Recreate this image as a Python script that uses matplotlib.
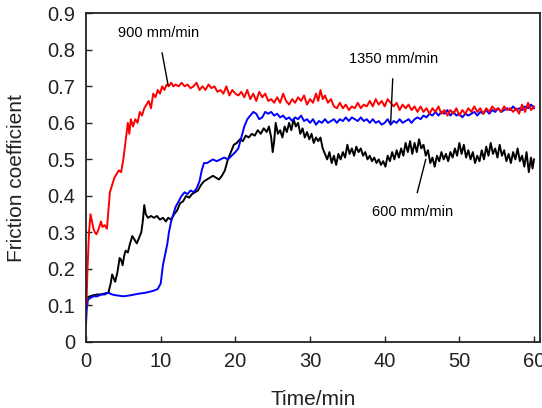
import matplotlib
matplotlib.use("Agg")
import matplotlib.pyplot as plt

plt.rcParams["font.family"] = ["Liberation Sans", "DejaVu Sans"]

# (time in min, friction coefficient)
feed_900 = [(0.05, 0.10), (0.2, 0.20), (0.4, 0.30), (0.6, 0.35), (0.8, 0.33), (1.0, 0.31), (1.2, 0.30),
            (1.4, 0.295), (1.7, 0.31), (2.0, 0.33), (2.2, 0.315), (2.5, 0.32), (2.8, 0.31), (3.0, 0.36),
            (3.2, 0.41), (3.5, 0.43), (3.8, 0.45), (4.1, 0.46), (4.4, 0.47), (4.7, 0.465), (5.0, 0.50),
            (5.3, 0.55), (5.6, 0.60), (5.8, 0.57), (6.0, 0.61), (6.3, 0.59), (6.6, 0.61), (6.9, 0.60),
            (7.2, 0.63), (7.5, 0.62), (7.8, 0.64), (8.1, 0.65), (8.4, 0.66), (8.7, 0.64), (9.0, 0.68),
            (9.3, 0.67), (9.6, 0.69), (9.9, 0.68), (10.2, 0.70), (10.5, 0.69), (10.8, 0.705), (11.1, 0.70),
            (11.4, 0.71), (11.7, 0.70), (12.0, 0.705), (12.4, 0.70), (12.8, 0.71), (13.2, 0.70), (13.6, 0.705),
            (14.0, 0.695), (14.4, 0.70), (14.8, 0.71), (15.2, 0.69), (15.6, 0.70), (16.0, 0.69), (16.4, 0.705),
            (16.8, 0.695), (17.2, 0.70), (17.6, 0.685), (18.0, 0.69), (18.4, 0.68), (18.8, 0.70), (19.2, 0.675),
            (19.6, 0.69), (20.0, 0.68), (20.4, 0.675), (20.8, 0.685), (21.2, 0.67), (21.6, 0.69), (22.0, 0.665),
            (22.4, 0.68), (22.8, 0.66), (23.2, 0.685), (23.6, 0.67), (24.0, 0.68), (24.4, 0.66), (24.8, 0.665),
            (25.2, 0.655), (25.6, 0.67), (26.0, 0.655), (26.4, 0.68), (26.8, 0.66), (27.2, 0.65), (27.6, 0.665),
            (28.0, 0.655), (28.4, 0.67), (28.8, 0.66), (29.2, 0.675), (29.6, 0.65), (30.0, 0.665), (30.4, 0.655),
            (30.8, 0.68), (31.1, 0.66), (31.4, 0.69), (31.7, 0.665), (32.0, 0.675), (32.4, 0.655), (32.8, 0.665),
            (33.2, 0.645), (33.6, 0.64), (34.0, 0.655), (34.4, 0.64), (34.8, 0.65), (35.2, 0.635), (35.6, 0.645),
            (36.0, 0.64), (36.4, 0.655), (36.8, 0.64), (37.2, 0.65), (37.6, 0.645), (38.0, 0.66), (38.4, 0.645),
            (38.8, 0.665), (39.2, 0.65), (39.6, 0.66), (40.0, 0.645), (40.4, 0.665), (40.8, 0.655), (41.2, 0.645),
            (41.6, 0.655), (42.0, 0.635), (42.4, 0.65), (42.8, 0.64), (43.2, 0.65), (43.6, 0.635), (44.0, 0.645),
            (44.4, 0.63), (44.8, 0.645), (45.2, 0.63), (45.6, 0.64), (46.0, 0.625), (46.4, 0.64), (46.8, 0.63),
            (47.2, 0.645), (47.6, 0.625), (48.0, 0.635), (48.4, 0.62), (48.8, 0.635), (49.2, 0.625), (49.6, 0.64),
            (50.0, 0.62), (50.4, 0.635), (50.8, 0.625), (51.2, 0.64), (51.6, 0.63), (52.0, 0.645), (52.4, 0.63),
            (52.8, 0.64), (53.2, 0.625), (53.6, 0.64), (54.0, 0.63), (54.4, 0.645), (54.8, 0.635), (55.2, 0.64),
            (55.6, 0.63), (56.0, 0.645), (56.4, 0.635), (56.8, 0.64), (57.2, 0.63), (57.6, 0.64), (58.0, 0.625),
            (58.4, 0.65), (58.8, 0.63), (59.2, 0.655), (59.6, 0.635), (60.0, 0.645)]

feed_1350 = [(0.0, 0.05), (0.1, 0.09), (0.25, 0.115), (0.5, 0.12), (1.0, 0.125), (1.5, 0.125), (2.0, 0.13),
             (2.5, 0.13), (3.0, 0.135), (3.5, 0.13), (4.0, 0.128), (5.0, 0.125), (6.0, 0.128), (7.0, 0.132),
             (8.0, 0.135), (9.0, 0.14), (9.6, 0.145), (10.0, 0.16), (10.3, 0.21), (10.6, 0.24), (10.9, 0.27),
             (11.1, 0.30), (11.4, 0.33), (11.7, 0.35), (12.0, 0.37), (12.4, 0.385), (12.8, 0.40), (13.2, 0.41),
             (13.6, 0.405), (14.0, 0.415), (14.4, 0.41), (14.8, 0.42), (15.2, 0.44), (15.5, 0.47), (15.8, 0.49),
             (16.2, 0.49), (16.6, 0.495), (17.0, 0.50), (17.5, 0.495), (18.0, 0.50), (18.5, 0.505), (19.0, 0.50),
             (19.5, 0.51), (20.0, 0.52), (20.4, 0.53), (20.8, 0.56), (21.2, 0.59), (21.6, 0.61), (22.0, 0.62),
             (22.4, 0.63), (22.8, 0.625), (23.2, 0.61), (23.6, 0.615), (24.0, 0.63), (24.4, 0.625), (24.8, 0.63),
             (25.2, 0.62), (25.6, 0.625), (26.0, 0.615), (26.4, 0.62), (26.8, 0.61), (27.2, 0.615), (27.6, 0.605),
             (28.0, 0.615), (28.4, 0.61), (28.8, 0.62), (29.2, 0.605), (29.6, 0.61), (30.0, 0.60), (30.4, 0.61),
             (30.8, 0.595), (31.2, 0.605), (31.6, 0.60), (32.0, 0.61), (32.4, 0.60), (32.8, 0.605), (33.2, 0.61),
             (33.6, 0.60), (34.0, 0.61), (34.4, 0.605), (34.8, 0.615), (35.2, 0.605), (35.6, 0.615), (36.0, 0.61),
             (36.4, 0.605), (36.8, 0.615), (37.2, 0.605), (37.6, 0.61), (38.0, 0.60), (38.4, 0.61), (38.8, 0.60),
             (39.2, 0.605), (39.6, 0.595), (40.0, 0.60), (40.4, 0.61), (40.8, 0.595), (41.2, 0.605), (41.6, 0.60),
             (42.0, 0.61), (42.4, 0.60), (42.8, 0.605), (43.2, 0.61), (43.6, 0.60), (44.0, 0.61), (44.4, 0.615),
             (44.8, 0.61), (45.2, 0.62), (45.6, 0.615), (46.0, 0.625), (46.4, 0.62), (46.8, 0.63), (47.2, 0.62),
             (47.6, 0.63), (48.0, 0.625), (48.4, 0.635), (48.8, 0.62), (49.2, 0.63), (49.6, 0.62), (50.0, 0.625),
             (50.4, 0.615), (50.8, 0.625), (51.2, 0.62), (51.6, 0.625), (52.0, 0.63), (52.4, 0.62), (52.8, 0.63),
             (53.2, 0.625), (53.6, 0.635), (54.0, 0.625), (54.4, 0.635), (54.8, 0.63), (55.2, 0.64), (55.6, 0.63),
             (56.0, 0.635), (56.4, 0.64), (56.8, 0.635), (57.2, 0.645), (57.6, 0.635), (58.0, 0.64), (58.4, 0.635),
             (58.8, 0.645), (59.2, 0.64), (59.6, 0.65), (60.0, 0.64)]

feed_600 = [(0.0, 0.12), (0.5, 0.125), (1.0, 0.128), (1.5, 0.13), (2.0, 0.13), (2.5, 0.133), (3.0, 0.135),
            (3.3, 0.16), (3.5, 0.185), (3.7, 0.175), (3.9, 0.165), (4.2, 0.19), (4.5, 0.23), (4.7, 0.225),
            (4.9, 0.21), (5.1, 0.235), (5.3, 0.25), (5.6, 0.245), (5.9, 0.27), (6.2, 0.29), (6.5, 0.28),
            (6.8, 0.27), (7.1, 0.285), (7.4, 0.30), (7.6, 0.33), (7.8, 0.375), (8.0, 0.35), (8.3, 0.34),
            (8.7, 0.345), (9.1, 0.34), (9.5, 0.345), (9.9, 0.335), (10.3, 0.34), (10.7, 0.33), (11.0, 0.34),
            (11.4, 0.335), (11.8, 0.35), (12.2, 0.36), (12.6, 0.38), (13.0, 0.385), (13.4, 0.40), (13.8, 0.395),
            (14.2, 0.405), (14.6, 0.41), (15.0, 0.415), (15.4, 0.43), (15.8, 0.44), (16.2, 0.445), (16.6, 0.45),
            (17.0, 0.455), (17.4, 0.45), (17.8, 0.445), (18.2, 0.455), (18.6, 0.47), (19.0, 0.50), (19.4, 0.52),
            (19.8, 0.54), (20.2, 0.545), (20.6, 0.555), (21.0, 0.55), (21.4, 0.565), (21.8, 0.56), (22.2, 0.57),
            (22.6, 0.565), (23.0, 0.58), (23.4, 0.57), (23.8, 0.585), (24.2, 0.575), (24.5, 0.59), (24.8, 0.56),
            (25.0, 0.52), (25.2, 0.55), (25.4, 0.60), (25.7, 0.57), (26.0, 0.58), (26.3, 0.56), (26.6, 0.59),
            (26.9, 0.575), (27.2, 0.60), (27.5, 0.58), (27.8, 0.61), (28.1, 0.59), (28.4, 0.60), (28.7, 0.57),
            (29.0, 0.585), (29.3, 0.56), (29.6, 0.575), (29.9, 0.555), (30.2, 0.57), (30.5, 0.545), (30.8, 0.56),
            (31.1, 0.55), (31.4, 0.56), (31.7, 0.53), (32.0, 0.515), (32.3, 0.50), (32.6, 0.52), (32.9, 0.49),
            (33.2, 0.51), (33.5, 0.485), (33.8, 0.515), (34.1, 0.50), (34.4, 0.52), (34.7, 0.505), (35.0, 0.54),
            (35.3, 0.515), (35.6, 0.53), (35.9, 0.51), (36.2, 0.535), (36.5, 0.52), (36.8, 0.53), (37.1, 0.51),
            (37.4, 0.52), (37.7, 0.50), (38.0, 0.51), (38.3, 0.495), (38.6, 0.505), (38.9, 0.49), (39.2, 0.50),
            (39.5, 0.485), (39.8, 0.495), (40.1, 0.48), (40.4, 0.51), (40.7, 0.495), (41.0, 0.52), (41.3, 0.50),
            (41.6, 0.525), (41.9, 0.505), (42.2, 0.53), (42.5, 0.51), (42.8, 0.545), (43.1, 0.52), (43.4, 0.55),
            (43.7, 0.515), (44.0, 0.545), (44.3, 0.52), (44.6, 0.555), (44.9, 0.53), (45.2, 0.54), (45.5, 0.51),
            (45.8, 0.525), (46.1, 0.49), (46.4, 0.505), (46.7, 0.48), (47.0, 0.51), (47.3, 0.495), (47.6, 0.52),
            (47.9, 0.50), (48.2, 0.515), (48.5, 0.495), (48.8, 0.52), (49.1, 0.505), (49.4, 0.53), (49.7, 0.51),
            (50.0, 0.545), (50.3, 0.515), (50.6, 0.54), (50.9, 0.505), (51.2, 0.525), (51.5, 0.50), (51.8, 0.52),
            (52.1, 0.49), (52.4, 0.51), (52.7, 0.495), (53.0, 0.525), (53.3, 0.50), (53.6, 0.535), (53.9, 0.51),
            (54.2, 0.545), (54.5, 0.515), (54.8, 0.53), (55.1, 0.505), (55.4, 0.54), (55.7, 0.51), (56.0, 0.525),
            (56.3, 0.495), (56.6, 0.515), (56.9, 0.49), (57.2, 0.52), (57.5, 0.50), (57.8, 0.53), (58.1, 0.495),
            (58.4, 0.51), (58.7, 0.48), (59.0, 0.52), (59.3, 0.465), (59.6, 0.505), (59.8, 0.475), (60.0, 0.50)]

x_ticks = [0, 10, 20, 30, 40, 50, 60]
y_ticks = [0, 0.1, 0.2, 0.3, 0.4, 0.5, 0.6, 0.7, 0.8, 0.9]
y_tick_labels = ["0", "0.1", "0.2", "0.3", "0.4", "0.5", "0.6", "0.7", "0.8", "0.9"]

fig = plt.figure(figsize=(5.42, 4.08), dpi=100)
ax = fig.add_axes([0.1587, 0.1618, 0.8376, 0.8056])

# black first, then blue, red on top
for serie, cor in [(feed_600, "black"), (feed_1350, "#0000ff"), (feed_900, "#ff0000")]:
    t, mu = zip(*serie)
    ax.plot(t, mu, color=cor, linewidth=1.4)

ax.set_xlim(0, 60.8)
ax.set_ylim(0, 0.9)
ax.set_xticks(x_ticks)
ax.set_yticks(y_ticks)
ax.set_yticklabels(y_tick_labels)
ax.tick_params(direction="in", length=4, width=1, labelsize=14.5, colors="#222222")
ax.tick_params(axis="y", pad=8)
ax.tick_params(axis="x", pad=7)
for spine in ax.spines.values():
    spine.set_linewidth(1.3)
    spine.set_color("#222222")

ax.set_xlabel("Time/min", fontsize=15, color="#222222", labelpad=14)
ax.set_ylabel("Friction coefficient", fontsize=15, color="#222222", labelpad=15)

# anotações com linha indicadora
ax.annotate("900 mm/min", xy=(11.0, 0.703), xytext=(9.7, 0.845), fontsize=10.5,
            ha="center", va="center", arrowprops=dict(arrowstyle="-", color="black", lw=1, shrinkA=7, shrinkB=0))
ax.annotate("1350 mm/min", xy=(40.8, 0.60), xytext=(41.2, 0.774), fontsize=10.5,
            ha="center", va="center", arrowprops=dict(arrowstyle="-", color="black", lw=1, shrinkA=7, shrinkB=0))
ax.annotate("600 mm/min", xy=(45.5, 0.50), xytext=(43.7, 0.356), fontsize=10.5,
            ha="center", va="center", arrowprops=dict(arrowstyle="-", color="black", lw=1, shrinkA=7, shrinkB=0))

fig.savefig("out.png", dpi=100)
